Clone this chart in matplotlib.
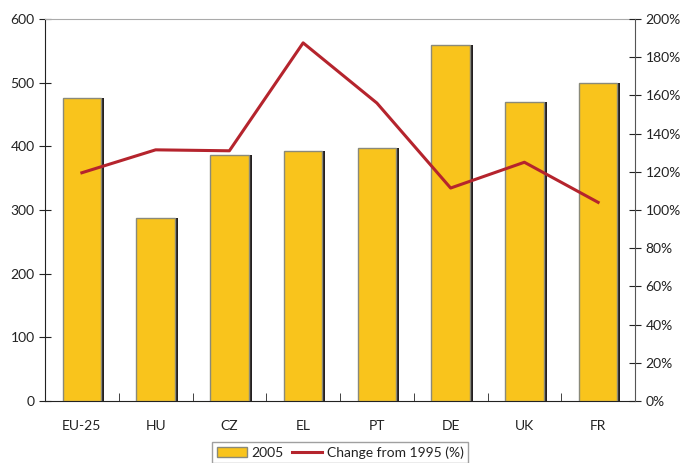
import matplotlib.pyplot as plt
from matplotlib.ticker import FuncFormatter, FixedLocator
import numpy as np

plt.rcParams['font.family'] = ['Lato', 'DejaVu Sans']

countries = ['EU-25', 'HU', 'CZ', 'EL', 'PT', 'DE', 'UK', 'FR']
values_2005 = [476, 287, 386, 393, 397, 559, 470, 499]
change_pct = [119.5, 131.5, 131, 187.5, 156, 111.5, 125, 104]

bar_color = '#f9c41c'
line_color = '#b5242d'
fs = 10

fig = plt.figure(figsize=(6.81, 4.63), dpi=100)
ax = fig.add_axes([45 / 681, 62 / 463, 590 / 681, 382 / 463])
x = np.arange(len(countries))
w = 0.52

# dark shadow behind each bar, then the bar itself
shift = 3 / 73.75
ax.bar(x + shift, values_2005, width=w, color='#231f20', zorder=2)
ax.bar(x, values_2005, width=w, color=bar_color, edgecolor='#8a8a7a',
       linewidth=1.0, zorder=3, label='2005')

ax.set_xlim(-0.5, len(countries) - 0.5)
ax.set_ylim(0, 600)
ax.set_yticks(range(0, 601, 100))
ax.set_xticks(x)
ax.set_xticklabels(countries)
ax.tick_params(axis='x', length=0, pad=14, labelsize=fs, colors='#222222')
ax.tick_params(axis='y', direction='inout', length=8, labelsize=fs, colors='#222222')
ax.xaxis.set_minor_locator(FixedLocator(np.arange(0.5, len(countries) - 1, 1)))
ax.tick_params(axis='x', which='minor', direction='in', length=6, color='#222222')
for s in ['left', 'bottom']:
    ax.spines[s].set_color('#222222')
ax.spines['top'].set_color('#aaaaaa')
ax.spines['right'].set_visible(False)

ax2 = ax.twinx()
ax2.plot(x, change_pct, color=line_color, linewidth=2.2, zorder=5,
         label='Change from 1995 (%)')
ax2.set_ylim(0, 200)
ax2.set_yticks(range(0, 201, 20))
ax2.yaxis.set_major_formatter(FuncFormatter(lambda v, p: '%d%%' % v))
ax2.tick_params(axis='y', direction='inout', length=8, labelsize=fs, colors='#222222')
ax2.spines['right'].set_color('#555555')
for s in ['left', 'top', 'bottom']:
    ax2.spines[s].set_visible(False)

h1, l1 = ax.get_legend_handles_labels()
h2, l2 = ax2.get_legend_handles_labels()
leg = fig.legend(h1 + h2, l1 + l2, loc='lower center', ncol=2,
                 bbox_to_anchor=(340 / 681, -0.015), frameon=True, fancybox=False,
                 fontsize=fs, handlelength=2.2, handletextpad=0.3,
                 columnspacing=0.6, borderpad=0.3)
leg.get_frame().set_edgecolor('#888888')
leg.get_frame().set_linewidth(1.0)
for t in leg.get_texts():
    t.set_color('#222222')

fig.savefig('out.png', dpi=100)
